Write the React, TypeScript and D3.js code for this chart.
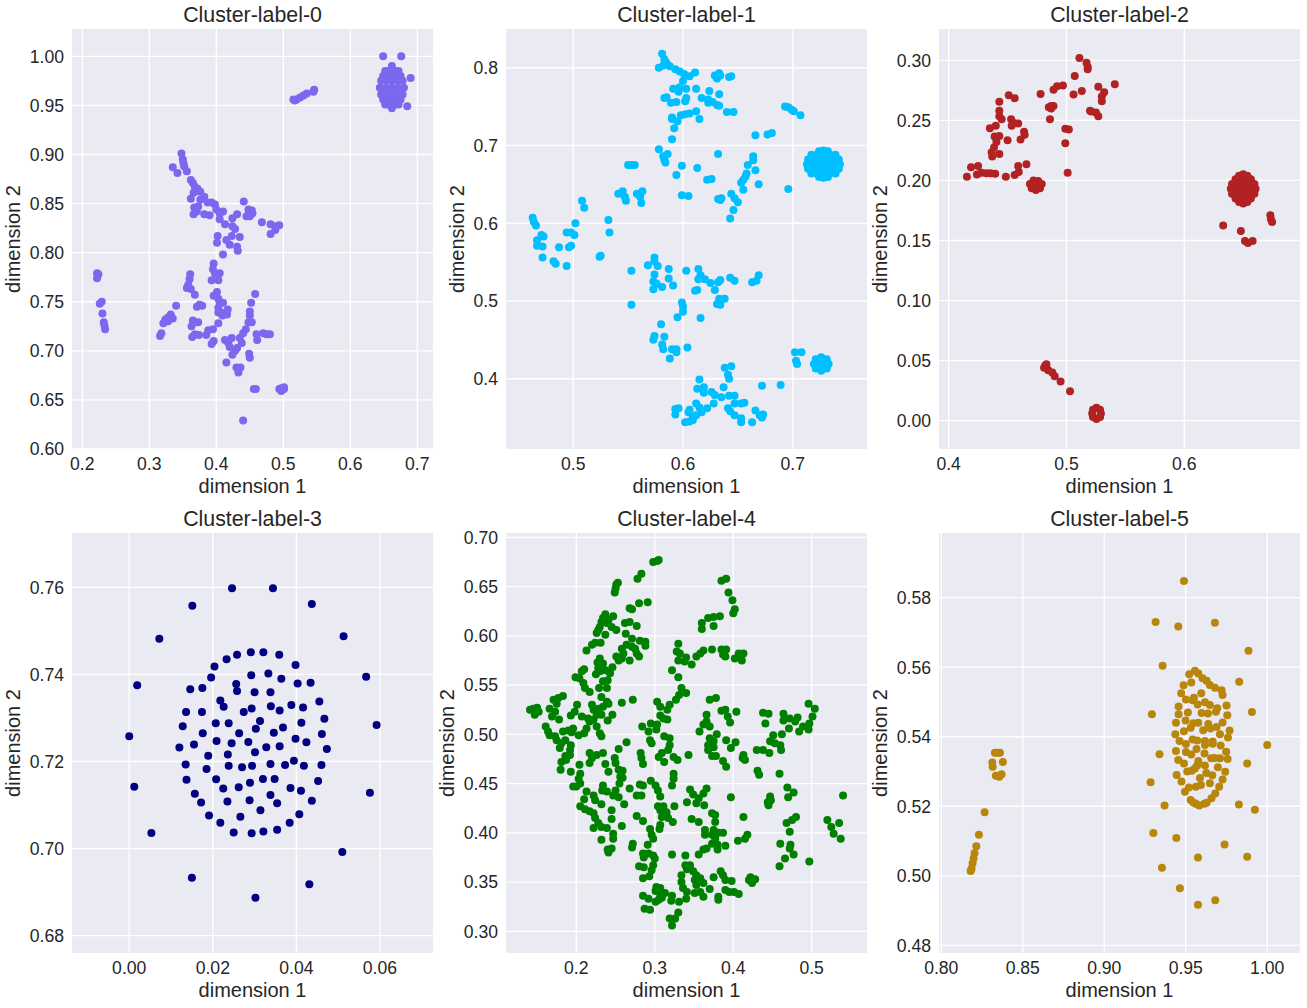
import React from "react";
import * as d3 from "d3";

type P = [number, number];

const cluster0: P[] = [
[.649,1.0],[.676,1.0],[.690,.978],[.685,.949],
[.662,.990],[.652,.985],[.657,.985],[.662,.985],[.667,.985],[.672,.985],[.649,.980],[.655,.980],[.662,.980],[.669,.980],[.675,.980],[.646,.975],[.654,.975],[.662,.975],[.670,.975],[.678,.975],[.644,.968],[.653,.968],[.662,.968],[.671,.968],[.680,.968],[.646,.961],[.654,.961],[.662,.961],[.670,.961],[.678,.961],[.649,.956],[.655,.956],[.662,.956],[.669,.956],[.675,.956],[.652,.951],[.657,.951],[.662,.951],[.667,.951],[.672,.951],[.662,.947],
[.517,.955],[.520,.956],[.525,.958],[.530,.960],[.535,.962],[.545,.964],[.546,.966],[.515,.956],
[.348,.901],[.350,.895],[.351,.891],[.352,.888],[.356,.883],[.335,.887],[.342,.881],[.362,.874],[.365,.871],[.368,.867],[.372,.865],[.376,.862],[.366,.861],[.382,.857],[.362,.855],[.376,.854],[.367,.846],[.373,.847],[.366,.839],[.382,.839],[.371,.842],[.390,.838],[.387,.851],[.393,.851],[.398,.849],[.400,.844],[.410,.842],[.405,.840],[.405,.834],[.413,.829],[.424,.835],[.431,.839],[.424,.827],[.428,.824],[.441,.852],
[.449,.840],[.453,.843],[.445,.837],[.450,.837],[.454,.840],[.448,.844],[.468,.831],[.481,.829],[.494,.828],[.489,.827],[.488,.823],[.481,.819],
[.402,.817],[.401,.810],[.415,.813],[.423,.817],[.435,.816],[.420,.808],[.431,.806],[.432,.802],[.410,.798],
[.396,.789],[.395,.783],[.398,.779],[.405,.779],[.393,.772],[.403,.772],[.361,.778],[.360,.773],[.358,.767],[.356,.764],[.362,.763],[.368,.757],
[.401,.760],[.396,.756],[.403,.753],[.405,.749],[.410,.749],[.403,.744],[.403,.739],[.409,.736],[.417,.742],[.416,.737],[.403,.728],[.407,.739],
[.458,.758],[.452,.749],[.450,.740],[.450,.736],[.448,.729],[.453,.729],[.444,.722],[.440,.718],
[.375,.747],[.371,.745],[.379,.746],[.340,.746],[.332,.737],[.328,.734],[.324,.732],[.335,.733],[.321,.728],[.328,.730],[.318,.718],[.316,.715],
[.365,.731],[.373,.729],[.363,.725],[.368,.729],[.368,.717],[.364,.714],[.374,.716],[.385,.716],[.388,.721],[.395,.722],[.396,.710],[.393,.707],
[.413,.711],[.423,.713],[.418,.708],[.420,.704],[.435,.713],[.438,.708],[.431,.703],[.428,.700],[.424,.696],
[.460,.717],[.470,.718],[.480,.717],[.461,.711],[.475,.717],[.449,.697],[.450,.693],[.415,.688],[.430,.683],[.436,.683],[.433,.678],
[.459,.661],[.456,.661],[.497,.662],[.494,.661],[.501,.663],[.497,.659],[.501,.661],[.440,.629],
[.222,.779],[.222,.774],[.224,.778],[.229,.750],[.226,.748],[.230,.738],[.232,.729],[.234,.722],[.233,.726],
];

const cluster1: P[] = [
[.581,.818],[.583,.811],[.585,.806],[.578,.800],[.588,.802],[.593,.798],[.597,.795],[.601,.792],[.606,.789],[.611,.794],[.600,.783],[.582,.803],
[.631,.790],[.629,.790],[.634,.790],[.631,.786],[.633,.793],[.644,.789],[.642,.788],
[.591,.773],[.597,.775],[.596,.769],[.603,.773],[.612,.773],[.624,.770],[.633,.766],[.585,.762],[.583,.761],[.617,.761],[.603,.761],[.602,.757],[.594,.756],[.589,.755],[.623,.759],[.623,.755],[.627,.756],[.631,.752],[.633,.751],
[.612,.744],[.606,.741],[.602,.740],[.598,.739],[.615,.734],[.590,.734],[.590,.736],[.595,.731],[.592,.722],[.590,.708],[.640,.743],[.646,.743],
[.693,.750],[.696,.749],[.699,.746],[.701,.744],[.707,.739],[.681,.716],[.677,.714],[.666,.713],
[.728,.6936],[.724,.6925],[.732,.6925],[.717,.688],[.722,.688],[.728,.688],[.734,.688],[.739,.688],[.714,.682],[.719,.682],[.724,.682],[.728,.682],[.732,.682],[.737,.682],[.742,.682],[.713,.676],[.718,.676],[.723,.676],[.728,.676],[.733,.676],[.738,.676],[.743,.676],[.714,.670],[.719,.670],[.724,.670],[.728,.670],[.732,.670],[.737,.670],[.742,.670],[.717,.664],[.722,.664],[.728,.664],[.734,.664],[.739,.664],[.728,.6584],[.724,.6595],[.732,.6595],
[.726,.4276],[.731,.425],[.7327,.419],[.731,.413],[.726,.4104],[.721,.413],[.7193,.419],[.721,.425],[.726,.419],
[.578,.695],[.586,.689],[.582,.686],[.583,.682],[.584,.678],[.632,.689],[.599,.674],[.613,.671],[.594,.662],[.664,.686],[.664,.681],[.659,.675],[.666,.668],[.658,.664],[.657,.660],[.653,.652],[.655,.656],[.655,.643],[.669,.650],[.696,.644],
[.550,.675],[.553,.675],[.556,.675],[.622,.656],[.626,.657],[.599,.636],[.605,.635],[.632,.631],[.635,.632],[.634,.630],[.644,.638],[.647,.632],[.650,.627],[.646,.617],[.643,.606],
[.541,.638],[.545,.641],[.547,.634],[.548,.629],[.558,.638],[.561,.634],[.563,.641],[.562,.626],[.508,.629],[.510,.620],[.532,.604],[.502,.600],[.533,.588],
[.463,.607],[.464,.602],[.466,.597],[.471,.585],[.473,.583],[.467,.578],[.467,.571],[.472,.570],[.472,.556],[.482,.551],[.484,.548],[.494,.545],[.487,.569],[.494,.588],[.498,.588],[.501,.585],[.498,.571],[.496,.569],[.525,.558],[.524,.557],
[.574,.556],[.574,.551],[.568,.546],[.577,.545],[.553,.539],[.574,.534],[.587,.541],[.587,.529],[.573,.525],[.576,.522],[.573,.515],[.581,.518],[.591,.520],[.553,.495],
[.603,.539],[.614,.541],[.614,.528],[.616,.533],[.620,.528],[.625,.523],[.634,.527],[.632,.524],[.629,.514],[.611,.513],[.613,.514],[.643,.530],[.647,.526],[.663,.524],[.667,.526],[.669,.533],
[.633,.503],[.638,.503],[.631,.496],[.634,.495],[.599,.498],[.600,.493],[.600,.486],[.595,.479],[.616,.478],
[.580,.470],[.574,.455],[.573,.450],[.583,.454],[.581,.444],[.582,.438],[.590,.438],[.594,.438],[.594,.434],[.588,.426],[.604,.440],
[.702,.434],[.708,.434],[.703,.423],[.704,.419],[.638,.414],[.644,.416],[.641,.405],[.642,.400],[.615,.399],[.613,.387],[.619,.389],[.619,.382],[.626,.383],[.629,.379],[.637,.389],[.635,.376],[.642,.378],[.647,.378],[.672,.391],[.689,.392],
[.647,.368],[.653,.368],[.656,.369],[.628,.368],[.612,.368],[.615,.363],[.622,.362],[.617,.357],[.612,.353],[.609,.350],[.606,.360],[.605,.357],[.593,.361],[.596,.362],[.593,.354],[.602,.344],[.606,.345],[.609,.347],
[.641,.362],[.643,.358],[.647,.353],[.653,.349],[.653,.344],[.663,.344],[.666,.359],[.670,.353],[.673,.354],[.672,.350],
];

const cluster2: P[] = [
[.511,.302],[.517,.298],[.518,.2945],[.518,.2925],[.507,.287],[.541,.280],[.527,.278],[.532,.2735],[.530,.270],[.530,.266],[.513,.2745],[.506,.2715],
[.497,.279],[.492,.2785],[.489,.2755],[.478,.272],[.487,.262],[.485,.261],[.489,.262],[.487,.260],[.486,.251],[.520,.258],[.521,.2575],[.525,.2565],[.527,.2535],
[.499,.243],[.502,.2425],[.499,.231],[.501,.2065],
[.451,.271],[.456,.2685],[.443,.2655],[.443,.258],[.443,.2535],[.445,.251],[.435,.2435],[.440,.2455],[.453,.251],[.455,.248],[.4535,.2455],[.459,.2475],[.464,.2405],[.4645,.238],[.461,.234],[.450,.2335],[.439,.2365],[.443,.237],[.4405,.232],[.4385,.2275],[.4365,.2235],[.437,.22],[.443,.222],
[.419,.211],[.425,.212],[.4155,.203],[.424,.205],[.428,.2065],[.432,.206],[.4355,.206],[.4395,.2055],[.4485,.203],[.456,.2045],[.4595,.207],[.459,.212],[.466,.2135],
[.474,.196],[.469,.197],[.472,.2],[.476,.1995],[.479,.197],[.4775,.1935],[.474,.192],[.4705,.1935],[.4725,.1965],
[.650,.2052],[.6465,.204],[.6535,.204],[.6435,.201],[.6475,.201],[.6525,.201],[.6565,.201],[.6405,.197],[.645,.197],[.650,.197],[.655,.197],[.6595,.197],[.6395,.193],[.645,.193],[.650,.193],[.655,.193],[.6605,.193],[.6405,.189],[.645,.189],[.650,.189],[.655,.189],[.6595,.189],[.6435,.185],[.6475,.185],[.6525,.185],[.6565,.185],[.6465,.182],[.6535,.182],[.650,.1808],
[.633,.1625],[.648,.158],[.673,.171],[.6735,.168],[.6745,.1655],[.6515,.1495],[.654,.148],[.658,.1495],
[.482,.046],[.483,.044],[.4845,.042],[.481,.044],[.483,.047],[.488,.040],[.490,.037],[.495,.0325],[.503,.0245],
[.5255,.0107],[.5285,.009],[.5292,.006],[.5285,.003],[.5255,.0013],[.5225,.003],[.5218,.006],[.5225,.009],
];

const cluster3: P[] = [
[.0246,.7598],[.0344,.7598],[.0151,.7558],[.0437,.7562],[.0072,.7482],[.0513,.7488],[.0567,.7395],[.0019,.7375],[.0592,.7284],[0,.7258],[.0012,.7142],[.0576,.7128],[.0053,.7036],[.0510,.6992],[.0150,.6933],[.0431,.6918],[.0302,.6887],
[.0291,.7451],[.0321,.7451],[.0359,.7445],[.0258,.7445],[.0233,.7435],[.0204,.7418],[.0398,.7422],[.0196,.7393],[.0292,.7398],[.0333,.7402],[.0364,.7390],[.0403,.7379],[.0434,.7381],[.0256,.7378],[.0258,.7362],[.0175,.7369],[.0146,.7366],[.0300,.7359],[.0338,.7359],[.0218,.7340],[.0226,.7326],[.0455,.7338],[.0388,.7330],[.0339,.7327],[.0416,.7324],[.0293,.7322],[.0360,.7317],[.0274,.7314],[.0136,.7314],[.0174,.7314],[.0467,.7298],[.0313,.7293],[.0207,.7288],[.0238,.7288],[.0412,.7289],[.0128,.7281],[.0368,.7278],[.0303,.7275],[.0176,.7265],[.0263,.7265],[.0346,.7266],[.0461,.7263],[.0398,.7252],[.0209,.7247],[.0285,.7245],[.0245,.7242],[.0424,.7244],[.0155,.7239],[.0120,.7232],[.0328,.7233],[.0360,.7235],[.0473,.7229],[.0301,.7221],[.0189,.7213],[.0236,.7216],[.0394,.7202],[.0135,.7193],[.0238,.7190],[.0294,.7190],[.0338,.7194],[.0373,.7192],[.0418,.7190],[.0460,.7192],[.0270,.7187],[.0185,.7183],[.0320,.7160],[.0348,.7160],[.0208,.7159],[.0137,.7158],[.0452,.7155],[.0289,.7151],[.0262,.7141],[.0225,.7138],[.0386,.7139],[.0411,.7133],[.0157,.7126],[.0338,.7123],[.0288,.7111],[.0235,.7108],[.0437,.7110],[.0172,.7106],[.0354,.7104],[.0314,.7088],[.0407,.7079],[.0191,.7076],[.0266,.7073],[.0384,.7059],[.0218,.7059],[.0354,.7043],[.0321,.7039],[.0250,.7037],[.0293,.7035],
];

const cluster4: P[] = [
[.298,.675],[.303,.676],[.305,.677],[.283,.663],[.278,.658],[.253,.654],[.251,.652],[.250,.648],[.249,.644],[.385,.656],[.391,.658],[.394,.644],[.399,.636],[.402,.627],[.400,.623],
[.291,.634],[.280,.633],[.268,.628],[.271,.627],[.237,.622],[.247,.620],[.234,.618],[.241,.616],[.232,.614],[.239,.613],[.230,.609],[.245,.609],[.228,.606],[.251,.606],[.226,.603],[.237,.601],[.262,.613],[.268,.614],[.277,.610],
[.263,.602],[.271,.597],[.281,.595],[.288,.594],[.288,.590],[.264,.591],[.271,.589],[.258,.587],[.275,.587],[.260,.582],[.277,.582],[.280,.579],[.268,.575],[.251,.579],[.258,.577],[.254,.575],
[.213,.585],[.220,.591],[.224,.593],[.231,.593],[.230,.577],[.227,.573],[.234,.572],[.228,.567],[.237,.565],[.246,.568],[.243,.562],[.225,.561],[.230,.564],[.210,.566],[.207,.564],[.199,.558],[.204,.557],[.209,.552],[.211,.547],[.217,.543],[.229,.547],[.239,.547],[.234,.554],[.240,.555],[.232,.538],[.239,.533],[.241,.531],
[.183,.539],[.177,.537],[.171,.535],[.175,.531],[.166,.526],[.173,.523],[.169,.518],[.178,.515],[.141,.525],[.145,.526],[.150,.527],[.152,.523],[.147,.520],
[.161,.508],[.164,.503],[.166,.499],[.173,.498],[.175,.494],[.183,.503],[.190,.504],[.196,.506],[.194,.502],[.186,.494],[.181,.491],[.179,.486],[.193,.489],[.192,.484],[.192,.479],[.186,.478],[.181,.472],[.187,.474],[.180,.464],[.193,.462],
[.201,.530],[.198,.523],[.193,.519],[.207,.518],[.215,.516],[.220,.530],[.222,.525],[.228,.526],[.234,.528],[.226,.520],[.232,.520],[.217,.513],[.222,.515],[.240,.514],[.246,.520],[.213,.506],[.210,.501],[.226,.508],[.230,.501],[.232,.498],[.203,.499],[.258,.532],[.272,.535],
[.217,.481],[.220,.476],[.226,.479],[.234,.481],[.217,.471],[.237,.470],[.204,.469],[.241,.462],[.249,.476],[.250,.471],[.254,.485],[.264,.492],[.254,.464],[.259,.463],[.256,.457],[.259,.456],[.205,.460],[.203,.455],[.200,.447],[.196,.447],[.205,.450],
[.255,.450],[.250,.443],[.234,.448],[.233,.443],[.239,.442],[.247,.438],[.254,.436],[.213,.442],[.210,.434],[.222,.438],[.224,.433],[.232,.429],[.205,.427],[.211,.424],[.217,.422],[.222,.420],[.224,.415],[.228,.410],[.222,.405],[.232,.406],[.239,.405],[.245,.423],[.245,.414],[.261,.429],[.258,.407],[.247,.399],[.247,.394],[.232,.393],[.240,.383],[.245,.384],[.241,.380],
[.268,.445],[.281,.449],[.285,.448],[.277,.438],[.283,.438],[.277,.417],[.285,.412],[.272,.389],[.271,.385],[.282,.481],[.283,.476],[.285,.470],[.284,.508],
[.303,.533],[.307,.528],[.316,.525],[.319,.530],[.327,.535],[.331,.540],[.334,.547],[.340,.542],[.330,.558],[.322,.565],
[.307,.519],[.303,.510],[.295,.511],[.311,.516],[.316,.515],[.302,.505],[.292,.503],[.294,.494],[.296,.491],[.312,.498],[.319,.496],[.319,.489],[.317,.484],[.309,.481],[.305,.477],[.312,.472],[.324,.477],[.329,.474],[.343,.479],
[.324,.460],[.324,.455],[.322,.448],[.295,.453],[.301,.448],[.304,.443],[.307,.437],[.304,.427],[.311,.427],[.307,.423],[.315,.421],[.309,.416],[.317,.415],[.323,.411],[.325,.427],[.307,.408],[.306,.404],[.294,.404],[.296,.398],[.298,.394],[.291,.388],[.285,.379],[.292,.379],[.286,.375],[.298,.377],[.300,.374],[.322,.378],
[.280,.366],[.286,.365],[.298,.367],[.296,.362],[.285,.354],[.293,.356],[.285,.336],[.292,.333],[.287,.323],[.294,.322],[.301,.330],[.305,.332],[.302,.345],[.307,.344],[.301,.341],[.307,.337],[.313,.339],[.309,.334],[.322,.336],[.321,.331],[.331,.330],[.340,.333],[.330,.319],[.319,.313],[.326,.313],[.322,.306],
[.357,.503],[.366,.520],[.366,.513],[.362,.510],[.370,.508],[.379,.500],[.370,.496],[.375,.493],[.368,.489],[.375,.487],[.368,.484],[.373,.478],[.378,.478],[.391,.494],[.397,.486],[.403,.492],[.387,.473],[.391,.467],
[.370,.535],[.378,.537],[.385,.524],[.390,.525],[.404,.523],[.393,.518],[.396,.512],[.413,.479],[.415,.474],[.412,.476],[.430,.484],[.438,.484],[.431,.463],[.433,.459],[.459,.460],
[.438,.522],[.445,.521],[.441,.511],[.464,.521],[.464,.514],[.472,.516],[.479,.513],[.482,.517],[.471,.506],[.462,.500],[.451,.499],[.447,.493],[.453,.491],[.460,.489],[.461,.484],[.446,.481],
[.484,.503],[.489,.508],[.496,.505],[.497,.511],[.501,.518],[.496,.531],[.504,.526],[.469,.446],[.477,.441],[.470,.436],[.446,.432],[.445,.428],[.447,.437],[.444,.431],[.448,.433],
[.397,.436],[.345,.444],[.366,.445],[.362,.440],[.349,.439],[.356,.435],[.341,.431],[.353,.430],[.363,.428],[.373,.420],[.377,.418],[.347,.414],[.356,.411],[.413,.416],[.377,.411],[.375,.403],[.364,.403],[.364,.398],[.373,.398],[.381,.400],[.387,.400],[.377,.394],[.373,.389],[.366,.384],[.362,.383],[.356,.378],[.380,.388],[.390,.387],[.380,.383],
[.406,.392],[.415,.394],[.418,.398],[.468,.410],[.475,.413],[.480,.416],[.472,.401],[.460,.389],[.473,.388],[.472,.384],[.466,.374],[.477,.378],[.459,.366],[.497,.371],[.540,.438],[.520,.413],[.525,.406],[.528,.399],[.535,.410],[.537,.394],
[.339,.377],[.339,.367],[.345,.367],[.341,.363],[.334,.357],[.334,.350],[.336,.344],[.341,.340],[.349,.361],[.353,.357],[.358,.354],[.351,.352],[.353,.347],[.362,.349],[.351,.339],[.358,.340],[.362,.335],[.370,.343],[.375,.355],[.384,.361],[.387,.357],[.390,.352],[.398,.351],[.390,.342],[.395,.340],[.401,.340],[.407,.338],[.381,.335],[.381,.332],
[.424,.352],[.420,.352],[.428,.353],[.424,.349],[.422,.355],
[.330,.592],[.328,.584],[.332,.582],[.330,.575],[.340,.578],[.338,.574],[.347,.571],[.353,.579],[.358,.582],[.362,.585],[.373,.586],[.385,.586],[.391,.586],[.387,.581],[.390,.579],[.360,.613],[.368,.618],[.375,.619],[.383,.620],[.360,.607],[.375,.610],
[.409,.579],[.402,.577],[.413,.582],[.411,.575],[.407,.582],[.409,.578],
];

const cluster5: P[] = [
[.9489,.5848],[.9315,.5730],[.9454,.5717],[.9679,.5728],[.9885,.5647],[.9358,.5604],[.9828,.5558],[.9906,.5471],[.9292,.5465],[1.0,.5376],[.9339,.5350],[.9877,.5323],[.9284,.5269],[.9370,.5202],[.9826,.5205],[.9924,.5190],[.9301,.5123],[.9442,.5109],[.9738,.5090],[.9575,.5053],[.9877,.5055],[.9354,.5023],[.9464,.4964],[.9681,.4930],[.9575,.4917],
[.9556,.5590],[.9577,.5582],[.9521,.5580],[.9603,.5568],[.9628,.5561],[.9534,.5556],[.9648,.5549],[.9679,.5541],[.9487,.5548],[.9720,.5534],[.9726,.5520],[.9472,.5525],[.9595,.5525],[.9550,.5512],[.9501,.5507],[.9542,.5505],[.9618,.5499],[.9573,.5493],[.9648,.5491],[.9750,.5490],[.9456,.5487],[.9693,.5482],[.9513,.5470],[.9685,.5472],[.9597,.5468],[.9636,.5467],[.9456,.5465],[.9755,.5462],[.9499,.5447],[.9726,.5441],[.9440,.5440],[.9546,.5439],[.9577,.5440],[.9638,.5437],[.9530,.5426],[.9689,.5428],[.9652,.5424],[.9607,.5419],[.9769,.5418],[.9489,.5416],[.9436,.5407],[.9710,.5407],[.9759,.5398],[.9462,.5388],[.9542,.5392],[.9571,.5389],[.9618,.5388],[.9665,.5386],[.9501,.5379],[.9618,.5376],[.9665,.5380],[.9714,.5375],[.9566,.5365],[.9501,.5356],[.9440,.5359],[.9748,.5357],[.9534,.5349],[.9615,.5352],[.9656,.5338],[.9677,.5339],[.9710,.5338],[.9757,.5336],[.9454,.5333],[.9577,.5330],[.9489,.5323],[.9618,.5317],[.9570,.5317],[.9697,.5312],[.9556,.5309],[.9536,.5302],[.9509,.5300],[.9742,.5299],[.9626,.5296],[.9444,.5290],[.9663,.5289],[.9587,.5281],[.9726,.5277],[.9474,.5271],[.9648,.5266],[.9593,.5261],[.9562,.5256],[.9705,.5256],[.9519,.5254],[.9495,.5242],[.9681,.5237],[.9658,.5223],[.9530,.5218],[.9546,.5211],[.9562,.5207],[.9583,.5202],[.9614,.5207],[.9628,.5210],
[.8329,.5354],[.8360,.5354],[.8344,.5354],[.8313,.5326],[.8315,.5314],[.8378,.5327],[.8335,.5288],[.8356,.5285],[.8370,.5292],[.8266,.5183],[.8231,.5118],[.8215,.5085],[.8204,.5065],[.8198,.5050],[.8192,.5036],[.8186,.5021],[.8180,.5014],
];

const titles = ["Cluster-label-0","Cluster-label-1","Cluster-label-2","Cluster-label-3","Cluster-label-4","Cluster-label-5"];
const colors = ["#7B68EE","#00BFFF","#B22222","#000080","#008000","#B8860B"];
const pointSets = [cluster0,cluster1,cluster2,cluster3,cluster4,cluster5];
const xTicks = [[.2,.3,.4,.5,.6,.7],[.5,.6,.7],[.4,.5,.6],[0,.02,.04,.06],[.2,.3,.4,.5],[.8,.85,.9,.95,1]];
const yTicks = [[.6,.65,.7,.75,.8,.85,.9,.95,1],[.4,.5,.6,.7,.8],[0,.05,.1,.15,.2,.25,.3],[.68,.7,.72,.74,.76],[.3,.35,.4,.45,.5,.55,.6,.65,.7],[.48,.5,.52,.54,.56,.58]];
const xFormats = [".1f",".1f",".1f",".2f",".1f",".2f"];
const yFormats = [".2f",".1f",".2f",".2f",".2f",".2f"];
const xDomains = [[.1846,.7234],[.4387,.7677],[.3918,.6982],[-.0137,.0727],[.1104,.5705],[.7986,1.0201]];
const yDomains = [[.60,1.0278],[.3096,.8498],[-.0236,.3261],[.6760,.7725],[.2780,.7044],[.4778,.5986]];

const lefts = [72,506,939,72,506,939];
const tops = [29,29,29,533,533,533];
const yLabelX = [20,464,887,20,454,887];
const W = 361, H = 420;
const ink = "#262626";
const FONT = "'Liberation Sans', Arial, sans-serif";

function Panel({ i }: { i: number }) {
  const l = lefts[i], t = tops[i], r = l + W, b = t + H;
  const x = d3.scaleLinear().domain(xDomains[i]).range([l, r]);
  const y = d3.scaleLinear().domain(yDomains[i]).range([b, t]);
  const fx = d3.format(xFormats[i]), fy = d3.format(yFormats[i]);
  return (
    <g fontFamily={FONT} fill={ink}>
      <rect x={l} y={t} width={W} height={H} fill="#EAEAF2" />
      {xTicks[i].map(v => <line key={v} x1={x(v)} x2={x(v)} y1={t} y2={b} stroke="#fff" strokeWidth={1.33} />)}
      {yTicks[i].map(v => <line key={v} x1={l} x2={r} y1={y(v)} y2={y(v)} stroke="#fff" strokeWidth={1.33} />)}
      <g>
        {pointSets[i].map((p, k) => <circle key={k} cx={x(p[0])} cy={y(p[1])} r={4} fill={colors[i]} />)}
      </g>
      {xTicks[i].map(v => <text key={v} x={x(v)} y={b + 21} textAnchor="middle" fontSize={17.6}>{fx(v)}</text>)}
      {yTicks[i].map(v => <text key={v} x={l - 8} y={y(v) + 6.3} textAnchor="end" fontSize={17.6}>{fy(v)}</text>)}
      <text x={(l + r) / 2} y={b + 44} textAnchor="middle" fontSize={20}>dimension 1</text>
      <text transform={`translate(${yLabelX[i]},${(t + b) / 2}) rotate(-90)`} textAnchor="middle" fontSize={20}>dimension 2</text>
      <text x={(l + r) / 2} y={t - 7} textAnchor="middle" fontSize={21.33}>{titles[i]}</text>
    </g>
  );
}

export default function App() {
  return (
    <svg width={1307} height={1008} style={{ position: "absolute", left: 0, top: 0, background: "#fff" }}>
      {titles.map((_, i) => <Panel key={i} i={i} />)}
    </svg>
  );
}
